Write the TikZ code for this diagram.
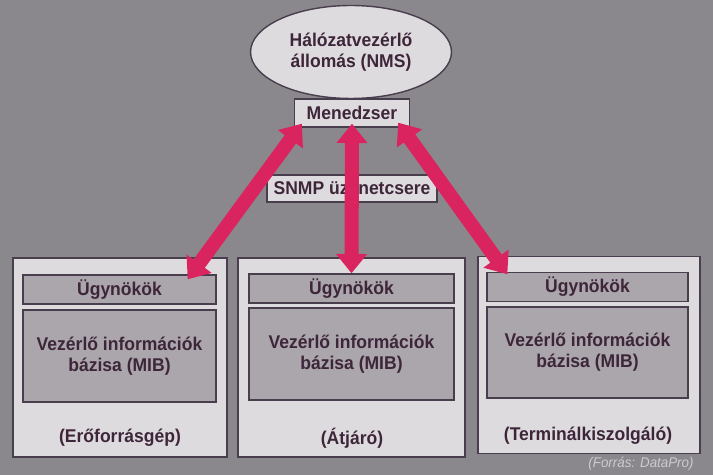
\documentclass[tikz,border=0pt]{standalone}
\usepackage{fontspec}
\setmainfont{Liberation Sans}[FakeStretch=0.95]
\usetikzlibrary{arrows.meta,positioning,shapes.geometric}
\definecolor{bggray}{RGB}{139,136,141}
\definecolor{paper}{RGB}{222,219,223}
\definecolor{panel}{RGB}{170,166,171}
\definecolor{ink}{RGB}{62,38,58}
\definecolor{edge}{RGB}{72,62,78}
\definecolor{snmpred}{RGB}{218,36,96}

\begin{document}
\begin{tikzpicture}[x=0.02cm, y=-0.02cm,
  font=\fontsize{10.5}{12}\selectfont\bfseries, text=ink,
  box/.style={draw=edge, line width=0.8pt, fill=paper, inner sep=0pt, align=center},
  host/.style={box, minimum height=3.98cm},
  part/.style={draw=edge, line width=0.8pt, fill=panel, inner sep=0pt, align=center},
  link/.style={draw=snmpred, line width=8pt, {Triangle[width=17pt,length=11pt]}-{Triangle[width=17pt,length=11pt]}}]

  %% --- BACKGROUND ---
  \fill[bggray] (0,0) rectangle (713,475);
  \useasboundingbox (0,0) rectangle (713,475);

  %% --- AGENT HOSTS (bottom row) ---
  \node[host, minimum width=4.28cm] (host1) at (120,357.5) {};
  \node[host, minimum width=4.54cm] (host2) at (351.5,357.5) {};
  \node[host, minimum width=4.44cm, minimum height=3.94cm] (host3) at (589,355) {};

  \node[part, minimum width=3.86cm, minimum height=0.58cm] (ag1) at (119.5,289.5) {Ügynökök};
  \node[part, minimum width=4.1cm, minimum height=0.58cm]  (ag2) at (351.5,288.5) {Ügynökök};
  \node[part, minimum width=4.02cm, minimum height=0.58cm] (ag3) at (587.5,287) {Ügynökök};

  \node[part, minimum width=3.86cm, minimum height=1.84cm] (mib1) at (119.5,356) {Vezérlő információk\\bázisa (MIB)};
  \node[part, minimum width=4.1cm, minimum height=1.84cm]  (mib2) at (351.5,354) {Vezérlő információk\\bázisa (MIB)};
  \node[part, minimum width=4.02cm, minimum height=1.82cm] (mib3) at (587.5,352.5) {Vezérlő információk\\bázisa (MIB)};

  \node (lab1) at (120,438) {(Erőforrásgép)};
  \node (lab2) at (352,438) {(Átjáró)};
  \node (lab3) at (588,436) {(Terminálkiszolgáló)};

  %% --- MANAGER (top) ---
  \node[box, minimum width=3.4cm, minimum height=0.54cm] (snmp) at (352,188.5) {SNMP üzenetcsere};
  \node[box, ellipse, minimum width=4.02cm, minimum height=1.86cm] (nms) at (351,52) {Hálózatvezérlő\\állomás (NMS)};
  \node[box, minimum width=2.3cm, minimum height=0.56cm] (mgr) at (352,113) {Menedzser};

  %% --- SNMP LINKS ---
  \draw[link] ([xshift=0.16cm,yshift=0.08cm]mgr.south west) -- ([xshift=-0.58cm,yshift=-0.1cm]ag1.north east);
  \draw[link] ([yshift=0.08cm]mgr.south) -- (ag2.north);
  \draw[link] ([xshift=-0.24cm,yshift=0.1cm]mgr.south east) -- ([xshift=0.42cm,yshift=-0.05cm]ag3.north west);

  %% --- SOURCE ---
  \node[font=\fontsize{8}{9}\selectfont\itshape, text=paper!80!bggray] (src) at (641,464) {(Forrás: DataPro)};
\end{tikzpicture}
\end{document}
